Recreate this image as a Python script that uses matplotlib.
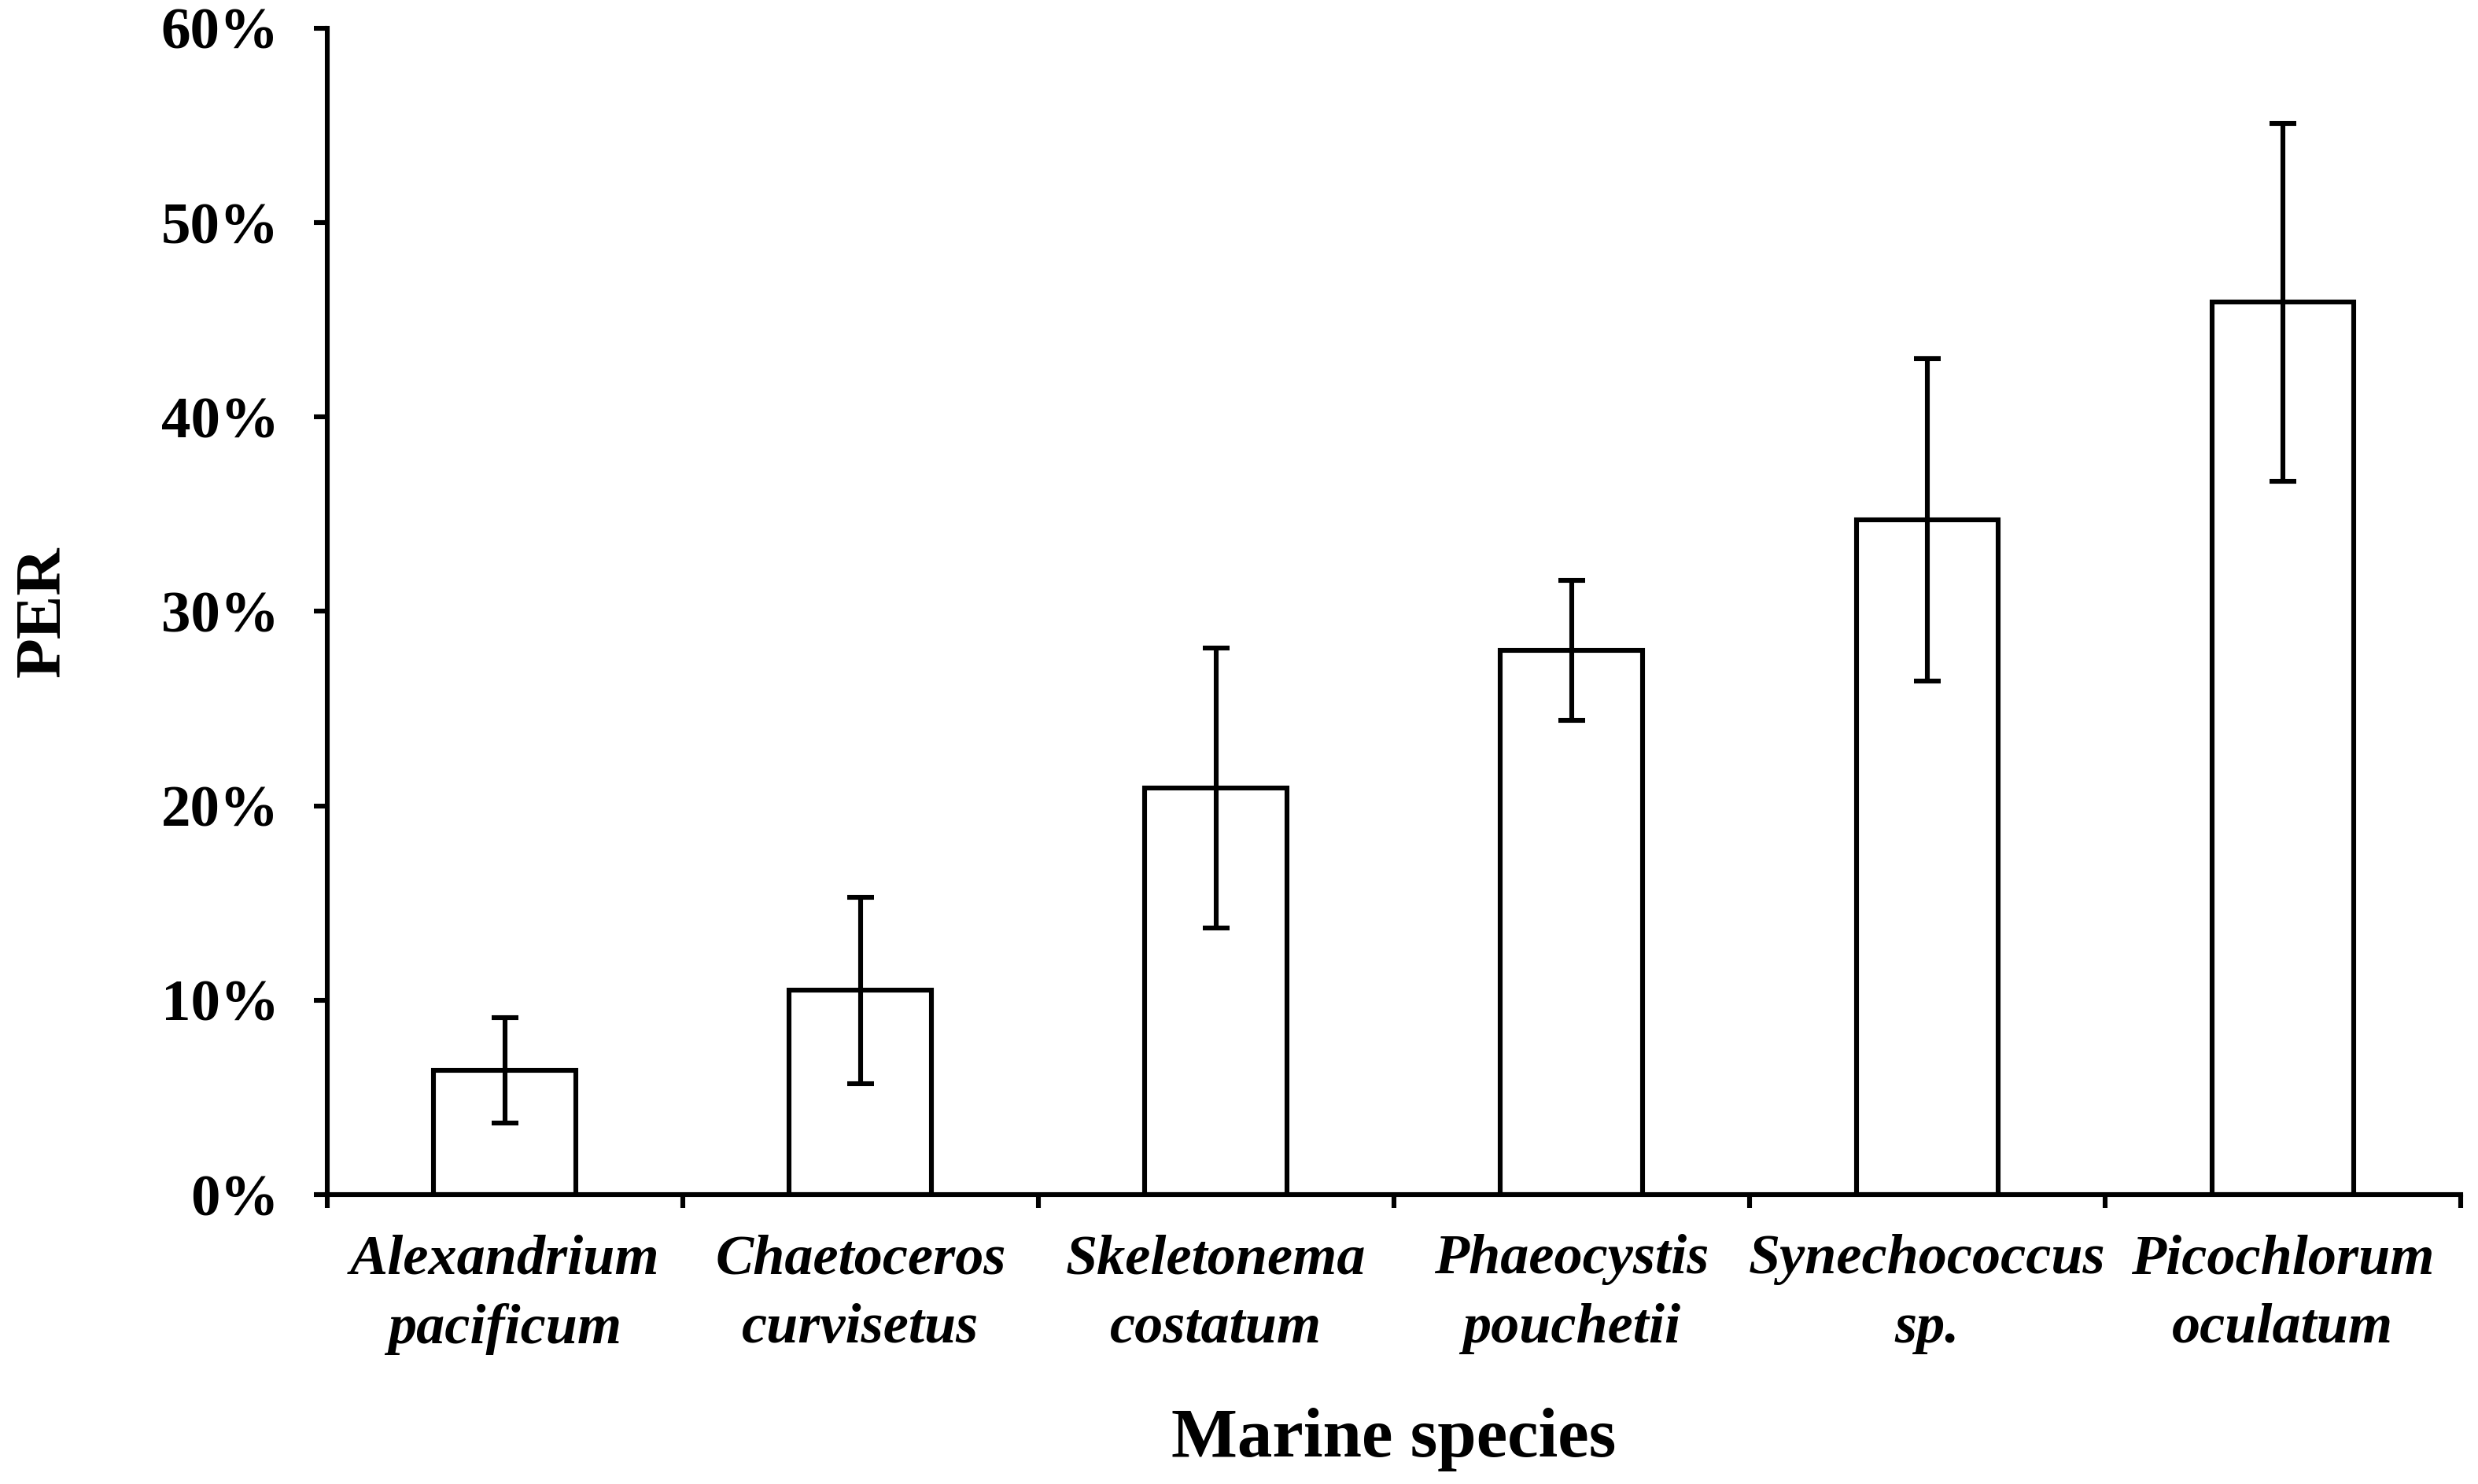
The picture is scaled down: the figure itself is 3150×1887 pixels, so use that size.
import matplotlib
matplotlib.use("Agg")
import matplotlib.pyplot as plt
import numpy as np
from matplotlib.ticker import FuncFormatter, FixedLocator

species = ["Alexandrium\npacificum", "Chaetoceros\ncurvisetus", "Skeletonema\ncostatum",
           "Phaeocystis\npouchetii", "Synechococcus\nsp.", "Picochlorum\noculatum"]
per = [6.4, 10.5, 20.9, 28.0, 34.7, 45.9]
err = [2.7, 4.8, 7.2, 3.6, 8.3, 9.2]

plt.rcParams['font.family'] = ['Liberation Serif', 'DejaVu Serif']

fig = plt.figure(figsize=(15.75, 9.435), dpi=200)
ax = fig.add_axes([0.132, 0.195, 0.861, 0.786])

x = np.arange(len(species))
ax.bar(x, per, width=0.4, color='white', edgecolor='black', linewidth=2.2,
       yerr=err, capsize=6, error_kw=dict(elinewidth=2.2, capthick=2.2, ecolor='black'))

ax.set_xlim(-0.5, len(species) - 0.5)
ax.set_ylim(0, 60)
ax.set_yticks(np.arange(0, 61, 10))
ax.yaxis.set_major_formatter(FuncFormatter(lambda v, p: f"{int(v)}%"))
ax.tick_params(axis='y', labelsize=27, width=2.2, length=6, direction='out', pad=16)
for lab in ax.get_yticklabels():
    lab.set_fontweight('bold')

# category labels centred, tick marks at boundaries
ax.xaxis.set_major_locator(FixedLocator(np.arange(-0.5, len(species), 1.0)))
ax.set_xticklabels([])
ax.tick_params(axis='x', which='major', width=2.2, length=6, direction='out')
ax.xaxis.set_minor_locator(FixedLocator(x))
ax.set_xticklabels(species, minor=True, fontsize=26, fontweight='bold', fontstyle='italic',
                   linespacing=1.45)
ax.tick_params(axis='x', which='minor', length=0, pad=18)

for s in ['top', 'right']:
    ax.spines[s].set_visible(False)
for s in ['left', 'bottom']:
    ax.spines[s].set_linewidth(2.2)

ax.set_xlabel("Marine species", fontsize=32, fontweight='bold', labelpad=24)
ax.set_ylabel("PER", fontsize=30, fontweight='bold', labelpad=40)

fig.savefig("out.png", dpi=200)
